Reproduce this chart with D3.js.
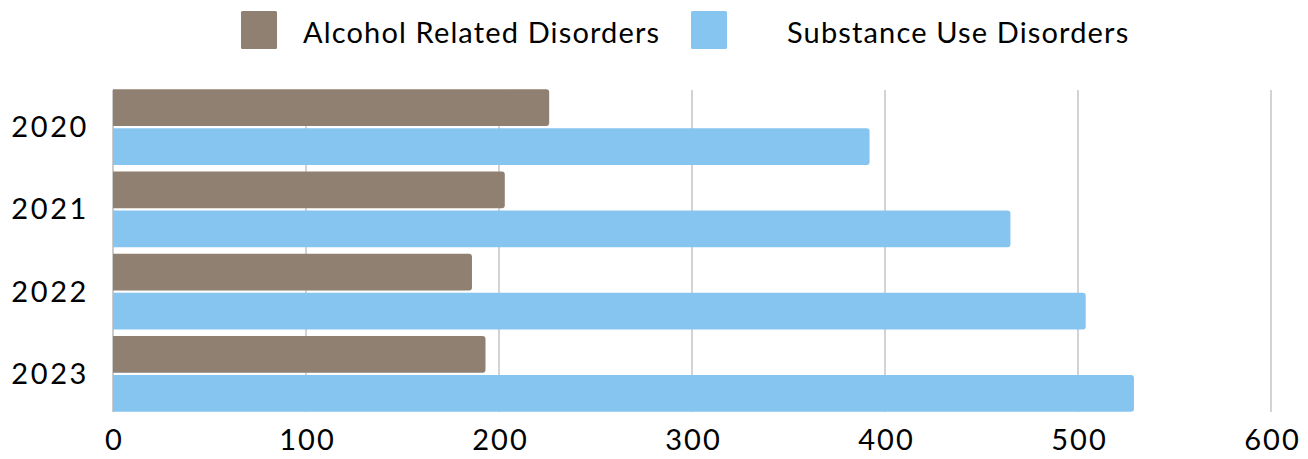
<!DOCTYPE html>
<html><head><meta charset="utf-8">
<script src="https://cdn.jsdelivr.net/npm/d3@7"></script>
<style>body{margin:0;background:#fff}svg{display:block}text{font-family:Lato,"Noto Sans",sans-serif;fill:#000}</style>
</head><body>
<script>
const years = ["2020","2021","2022","2023"];
const seriesNames = ["Alcohol Related Disorders","Substance Use Disorders"];
const alcohol = [226,203,186,193];
const substance = [392,465,504,529];
const xTicks = [0,100,200,300,400,500,600];
const colors = ["#8f8072","#87c5f1"];

const W=1308,H=459;
const svg=d3.select("body").append("svg").attr("width",W).attr("height",H);
const x=d3.scaleLinear().domain([0,600]).range([113,1271]);
const y=d3.scaleBand().domain(years).range([86,415]).paddingInner(0.08).paddingOuter(0.04);
const sub=d3.scaleBand().domain([0,1]).range([0,y.bandwidth()]).paddingInner(0.055);

// grid
svg.append("g").selectAll("line").data(xTicks).join("line")
 .attr("x1",d=>x(d)).attr("x2",d=>x(d)).attr("y1",90).attr("y2",412)
 .attr("stroke",d=>d===0?"#999":"#c8c8c8").attr("stroke-width",d=>d===0?1:1.6);

const data=years.map((yr,i)=>({yr,vals:[alcohol[i],substance[i]]}));
const g=svg.append("g").selectAll("g").data(data).join("g").attr("transform",d=>`translate(0,${y(d.yr)})`);
g.selectAll("path").data(d=>d.vals.map((v,k)=>({v,k}))).join("path")
 .attr("fill",d=>colors[d.k])
 .attr("d",d=>{const x0=x(0),x1=x(d.v),y0=sub(d.k),h=sub.bandwidth(),r=3;
   return `M${x0},${y0}H${x1-r}Q${x1},${y0} ${x1},${y0+r}V${y0+h-r}Q${x1},${y0+h} ${x1-r},${y0+h}H${x0}Z`;});

// y labels
svg.append("g").selectAll("text").data(years).join("text")
 .attr("x",89).attr("y",d=>y(d)+y.bandwidth()/2+10).attr("text-anchor","end")
 .attr("font-size",29).attr("letter-spacing","2.6px").text(d=>d);

// x axis labels
const xa=d3.axisBottom(x).tickValues(xTicks).tickSize(0).tickPadding(0);
const ax=svg.append("g").attr("transform","translate(0,429)").call(xa);
ax.select(".domain").remove();
ax.selectAll("text").attr("font-size",29).attr("letter-spacing","2px").attr("dx","1px").attr("dy","0.71em")
 .style("font-family","Lato,'Noto Sans',sans-serif").attr("fill","#000");

// legend
const lx=[241,691], tx=[303,787];
const lg=svg.append("g");
seriesNames.forEach((n,i)=>{
 lg.append("rect").attr("x",lx[i]).attr("y",11).attr("width",36).attr("height",38).attr("rx",1.5).attr("fill",colors[i]);
 lg.append("text").attr("x",tx[i]).attr("y",43).attr("font-size",29).attr("letter-spacing","1.15px").text(n);
});
</script>
</body></html>
